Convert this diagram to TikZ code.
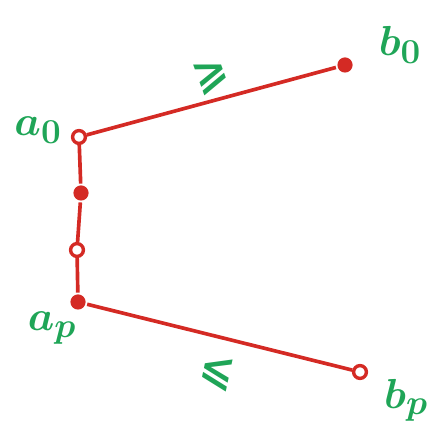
\documentclass[tikz,border=0pt]{standalone}
\usepackage{amsmath}
\usepackage{amssymb}
\usepackage{fontspec}
\usepackage{xcolor}
\usetikzlibrary{arrows.meta, positioning, calc}
\newfontfamily\signfont{DejaVu Sans}
\definecolor{PenRed}{HTML}{D42A24}
\definecolor{PenGreen}{HTML}{1FA557}

\begin{document}
\begin{tikzpicture}[x=0.025cm, y=-0.025cm, line width=2.6pt,
    full/.style={circle, fill=PenRed, inner sep=0pt, minimum size=0.38cm},
    hollow/.style={circle, draw=PenRed, fill=white, line width=2.4pt, inner sep=0pt, minimum size=0.32cm},
    lbl/.style={text=PenGreen, font=\Huge\bfseries, scale=1.2},
    sign/.style={text=PenGreen, font=\Huge\signfont\bfseries, scale=1.2}]
        \useasboundingbox (0,0) rectangle (434,431);
        % Points
        \node[full] (B0) at (345,65) {};
        \node[hollow] (A0) at (79,137) {};
        \node[full] (M1) at (81,193) {};
        \node[hollow] (M2) at (77,250) {};
        \node[full] (AP) at (78,302) {};
        \node[hollow] (BP) at (360,372) {};

        % Segments
        \draw[PenRed] (B0) -- (A0);
        \draw[PenRed] (A0) -- (M1);
        \draw[PenRed] (M1) -- (M2);
        \draw[PenRed] (M2) -- (AP);
        \draw[PenRed] (AP) -- (BP);

        % Point labels
        \node[lbl] (LA0) at (38,130) {$\boldsymbol{a_{\scriptstyle 0}}$};
        \node[lbl] (LB0) at (400,45) {$\boldsymbol{b_{\scriptstyle 0}}$};
        \node[lbl] (LAP) at (52,328) {$\boldsymbol{a_{\scriptstyle p}}$};
        \node[lbl] (LBP) at (406,400) {$\boldsymbol{b_{\scriptstyle p}}$};

        % Order signs
        \node[sign, rotate=20] (GE) at (212,76) {⩾};
        \node[sign, rotate=-12] (LE) at (217,373) {⩽};
    \end{tikzpicture}
\end{document}
